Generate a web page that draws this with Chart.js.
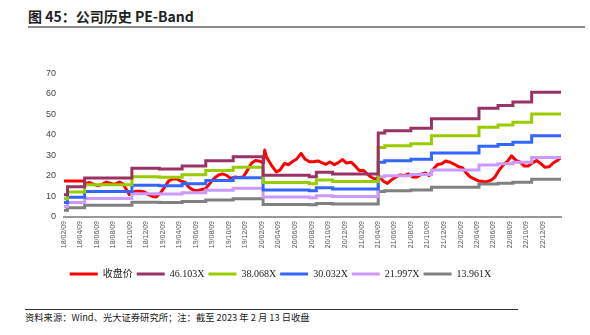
<!DOCTYPE html>
<html>
<head>
<meta charset="utf-8">
<script src="https://cdn.jsdelivr.net/npm/chart.js@4.4.1/dist/chart.umd.min.js"></script>
<style>
    body { margin: 0; width: 590px; height: 335px; background: #fff; position: relative; overflow: hidden; font-family: 'Noto Sans CJK SC', sans-serif; }
    #title { position: absolute; left: 28px; top: 6px; font-size: 14px; font-weight: bold; color: #222; white-space: nowrap; }
    #title-rule { position: absolute; left: 28px; top: 26px; width: 557px; height: 2px; background: #8c8c8c; }
    #chart-box { position: absolute; left: 0; top: 60px; }
    #source-rule { position: absolute; left: 25px; top: 309px; width: 493px; height: 1px; background: #333; }
    #source { position: absolute; left: 25px; top: 310px; font-size: 9.3px; color: #222; white-space: nowrap; }
</style>
</head>
<body>
<div id="title">图 45：公司历史 PE-Band</div>
<div id="title-rule"></div>
<div id="chart-box"><canvas id="pe-band" width="590" height="236"></canvas></div>
<div id="source-rule"></div>
<div id="source">资料来源：Wind、光大证券研究所；注：截至 2023 年 2 月 13 日收盘</div>
<script>
// x tick labels (yy/mm/dd)
const tickLabels = [
    '18/02/09', '18/04/09', '18/06/09', '18/08/09', '18/10/09', '18/12/09',
    '19/02/09', '19/04/09', '19/06/09', '19/08/09', '19/10/09', '19/12/09',
    '20/02/09', '20/04/09', '20/06/09', '20/08/09', '20/10/09', '20/12/09',
    '21/02/09', '21/04/09', '21/06/09', '21/08/09', '21/10/09', '21/12/09',
    '22/02/09', '22/04/09', '22/06/09', '22/08/09', '22/10/09', '22/12/09'
];

// closing price
const priceDates = [
    '2018-02-09', '2018-02-15', '2018-03-01', '2018-03-15', '2018-04-01', '2018-04-15', '2018-04-24',
    '2018-05-01', '2018-05-15', '2018-06-01', '2018-06-15', '2018-07-01', '2018-07-15', '2018-08-01',
    '2018-08-15', '2018-09-01', '2018-09-15', '2018-10-01', '2018-10-07', '2018-10-15', '2018-11-01',
    '2018-11-15', '2018-12-01', '2018-12-15', '2019-01-01', '2019-01-15', '2019-02-01', '2019-02-15',
    '2019-03-01', '2019-03-15', '2019-04-01', '2019-04-15', '2019-05-01', '2019-05-15', '2019-06-01',
    '2019-06-15', '2019-07-01', '2019-07-15', '2019-08-01', '2019-08-15', '2019-09-01', '2019-09-15',
    '2019-10-01', '2019-10-15', '2019-11-01', '2019-11-15', '2019-12-01', '2019-12-15', '2020-01-01',
    '2020-01-15', '2020-02-01', '2020-02-13', '2020-02-18', '2020-02-24', '2020-03-01', '2020-03-15',
    '2020-04-01', '2020-04-15', '2020-05-01', '2020-05-15', '2020-06-01', '2020-06-15', '2020-07-01',
    '2020-07-15', '2020-08-01', '2020-08-15', '2020-09-01', '2020-09-15', '2020-10-01', '2020-10-15',
    '2020-11-01', '2020-11-15', '2020-12-01', '2020-12-15', '2021-01-01', '2021-01-15', '2021-02-01',
    '2021-02-15', '2021-03-01', '2021-03-15', '2021-04-01', '2021-04-15', '2021-05-01', '2021-05-15',
    '2021-06-01', '2021-06-15', '2021-07-01', '2021-07-15', '2021-08-01', '2021-08-15', '2021-09-01',
    '2021-09-15', '2021-10-01', '2021-10-15', '2021-11-01', '2021-11-15', '2021-12-01', '2021-12-15',
    '2022-01-01', '2022-01-15', '2022-02-01', '2022-02-15', '2022-03-01', '2022-03-15', '2022-04-01',
    '2022-04-15', '2022-05-01', '2022-05-15', '2022-06-01', '2022-06-15', '2022-07-01', '2022-07-15',
    '2022-08-01', '2022-08-15', '2022-09-01', '2022-09-15', '2022-10-01', '2022-10-15', '2022-11-01',
    '2022-11-15', '2022-12-01', '2022-12-15', '2023-01-01', '2023-01-15', '2023-02-01', '2023-02-13'
];
const priceClose = [
    17.5, 17.5, 17.5, 17.5, 17.5, 17.5, 17.5,
    16.3, 16.8, 15.8, 15.3, 16.0, 17.0, 16.4,
    15.9, 17.0, 16.0, 12.5, 10.9, 11.8, 12.6,
    12.6, 12.3, 11.0, 10.0, 9.8, 12.0, 14.7,
    17.5, 18.5, 18.5, 17.5, 17.0, 14.5, 13.0,
    12.8, 13.4, 13.8, 16.5, 18.8, 20.5, 21.0,
    20.3, 18.8, 19.5, 19.3, 19.5, 22.5, 26.3,
    27.5, 27.2, 26.3, 32.6, 29.5, 28.0, 25.0,
    22.0, 23.0, 26.1, 25.5, 27.2, 28.3, 31.0,
    28.3, 26.9, 26.9, 27.3, 26.5, 25.7, 26.8,
    25.5, 26.5, 28.0, 26.3, 26.7, 25.0, 22.5,
    22.8, 21.0, 19.5, 18.4, 19.8, 17.3, 16.4,
    18.3, 19.5, 20.5, 20.2, 21.0, 19.5, 19.5,
    20.7, 21.5, 20.2, 23.5, 25.6, 26.0, 27.3,
    26.7, 25.8, 24.5, 24.0, 21.5, 19.6, 18.5,
    17.6, 17.3, 17.2, 18.0, 19.5, 23.0, 25.3,
    27.3, 29.8, 27.5, 26.9, 24.8, 24.8, 26.5,
    27.5, 26.0, 24.3, 24.5, 26.3, 27.7, 28.9
];

// PE bands: dates where the band level changes, and the level from that date on
const bandDates = [
    '2018-02-09', '2018-02-22', '2018-04-26', '2018-10-17', '2019-01-26', '2019-04-20', '2019-07-16',
    '2019-10-25', '2020-02-12', '2020-07-31', '2020-08-26', '2020-10-25', '2021-04-11', '2021-05-05',
    '2021-08-09', '2021-10-24', '2022-04-17', '2022-06-26', '2022-08-20', '2022-10-28', '2023-02-13'
];
const band46 = [10.80, 14.70, 19.00, 23.80, 23.40, 24.90, 27.40, 29.40, 20.30, 19.60, 21.80, 21.00, 41.00, 42.10, 43.30, 47.90, 53.00, 54.30, 56.00, 60.80, 60.80];
const band38 = [8.92, 12.14, 15.69, 19.65, 19.32, 20.56, 22.62, 24.28, 16.76, 16.18, 18.00, 17.34, 33.85, 34.76, 35.75, 39.55, 43.76, 44.84, 46.24, 50.20, 50.20];
const band30 = [7.04, 9.57, 12.38, 15.50, 15.24, 16.22, 17.85, 19.15, 13.22, 12.77, 14.20, 13.68, 26.71, 27.43, 28.21, 31.20, 34.53, 35.37, 36.48, 39.61, 39.61];
const band22 = [5.15, 7.01, 9.07, 11.36, 11.17, 11.88, 13.07, 14.03, 9.69, 9.35, 10.40, 10.02, 19.56, 20.09, 20.66, 22.86, 25.29, 25.91, 26.72, 29.01, 29.01];
const band14 = [3.27, 4.45, 5.75, 7.21, 7.09, 7.54, 8.30, 8.90, 6.15, 5.94, 6.60, 6.36, 12.42, 12.75, 13.11, 14.51, 16.05, 16.44, 16.96, 18.41, 18.41];

const seriesNames = ['收盘价', '46.103X', '38.068X', '30.032X', '21.997X', '13.961X'];
const seriesColors = ['#ff0000', '#993366', '#99cc00', '#3366ff', '#cc99ff', '#808080'];

// days since the first trading day shown
const t0 = Date.UTC(2018, 1, 9);
function dayOf(s) {
    const [y, m, d] = s.split('-').map(Number);
    return (Date.UTC(y, m - 1, d) - t0) / 864e5;
}
const toPoints = (dates, values) => dates.map((d, i) => ({ x: dayOf(d), y: values[i] }));
const tickDays = tickLabels.map(l => dayOf('20' + l.replace(/\//g, '-')));

const bands = [band46, band38, band30, band22, band14];

const datasets = [{
    label: seriesNames[0],
    data: toPoints(priceDates, priceClose),
    borderColor: seriesColors[0],
    backgroundColor: seriesColors[0],
    borderWidth: 3,
    borderJoinStyle: 'round',
    pointRadius: 0,
    tension: 0,
    order: 10
}];
bands.forEach((b, i) => {
    datasets.push({
        label: seriesNames[i + 1],
        data: toPoints(bandDates, b),
        borderColor: seriesColors[i + 1],
        backgroundColor: seriesColors[i + 1],
        borderWidth: 3,
        pointRadius: 0,
        stepped: true,
        order: i + 1
    });
});

new Chart(document.getElementById('pe-band'), {
    type: 'line',
    data: { datasets: datasets },
    options: {
        responsive: false,
        animation: false,
        layout: { padding: { top: 12, right: 29, bottom: 7, left: 0 } },
        plugins: {
            tooltip: { enabled: false },
            legend: {
                position: 'bottom',
                labels: {
                    boxWidth: 28,
                    boxHeight: 3,
                    padding: 4,
                    color: '#222',
                    font: { family: "'Liberation Serif', 'Noto Sans CJK SC'", size: 10 },
                    sort: (a, b) => a.datasetIndex - b.datasetIndex,
                    generateLabels: function (chart) {
                        return Chart.defaults.plugins.legend.labels.generateLabels(chart)
                            .map(item => Object.assign(item, { lineWidth: 0 }));
                    }
                }
            }
        },
        scales: {
            x: {
                type: 'linear',
                min: 0,
                max: dayOf('2023-02-13'),
                afterBuildTicks: axis => { axis.ticks = tickDays.map(v => ({ value: v })); },
                afterFit: axis => { axis.height = 48; },
                grid: { display: false, drawTicks: false },
                border: { color: '#999', width: 2 },
                ticks: {
                    autoSkip: false,
                    minRotation: 90,
                    maxRotation: 90,
                    padding: 4,
                    color: '#555',
                    font: { family: "'Liberation Sans'", size: 7 },
                    callback: (value, index) => tickLabels[index]
                }
            },
            y: {
                min: 0,
                max: 70,
                afterFit: axis => { axis.width = 64; },
                grid: { display: false, drawTicks: false },
                border: { display: false },
                ticks: {
                    stepSize: 10,
                    padding: 8,
                    color: '#444',
                    font: { family: "'Liberation Sans'", size: 9 }
                }
            }
        }
    }
});
</script>
</body>
</html>
